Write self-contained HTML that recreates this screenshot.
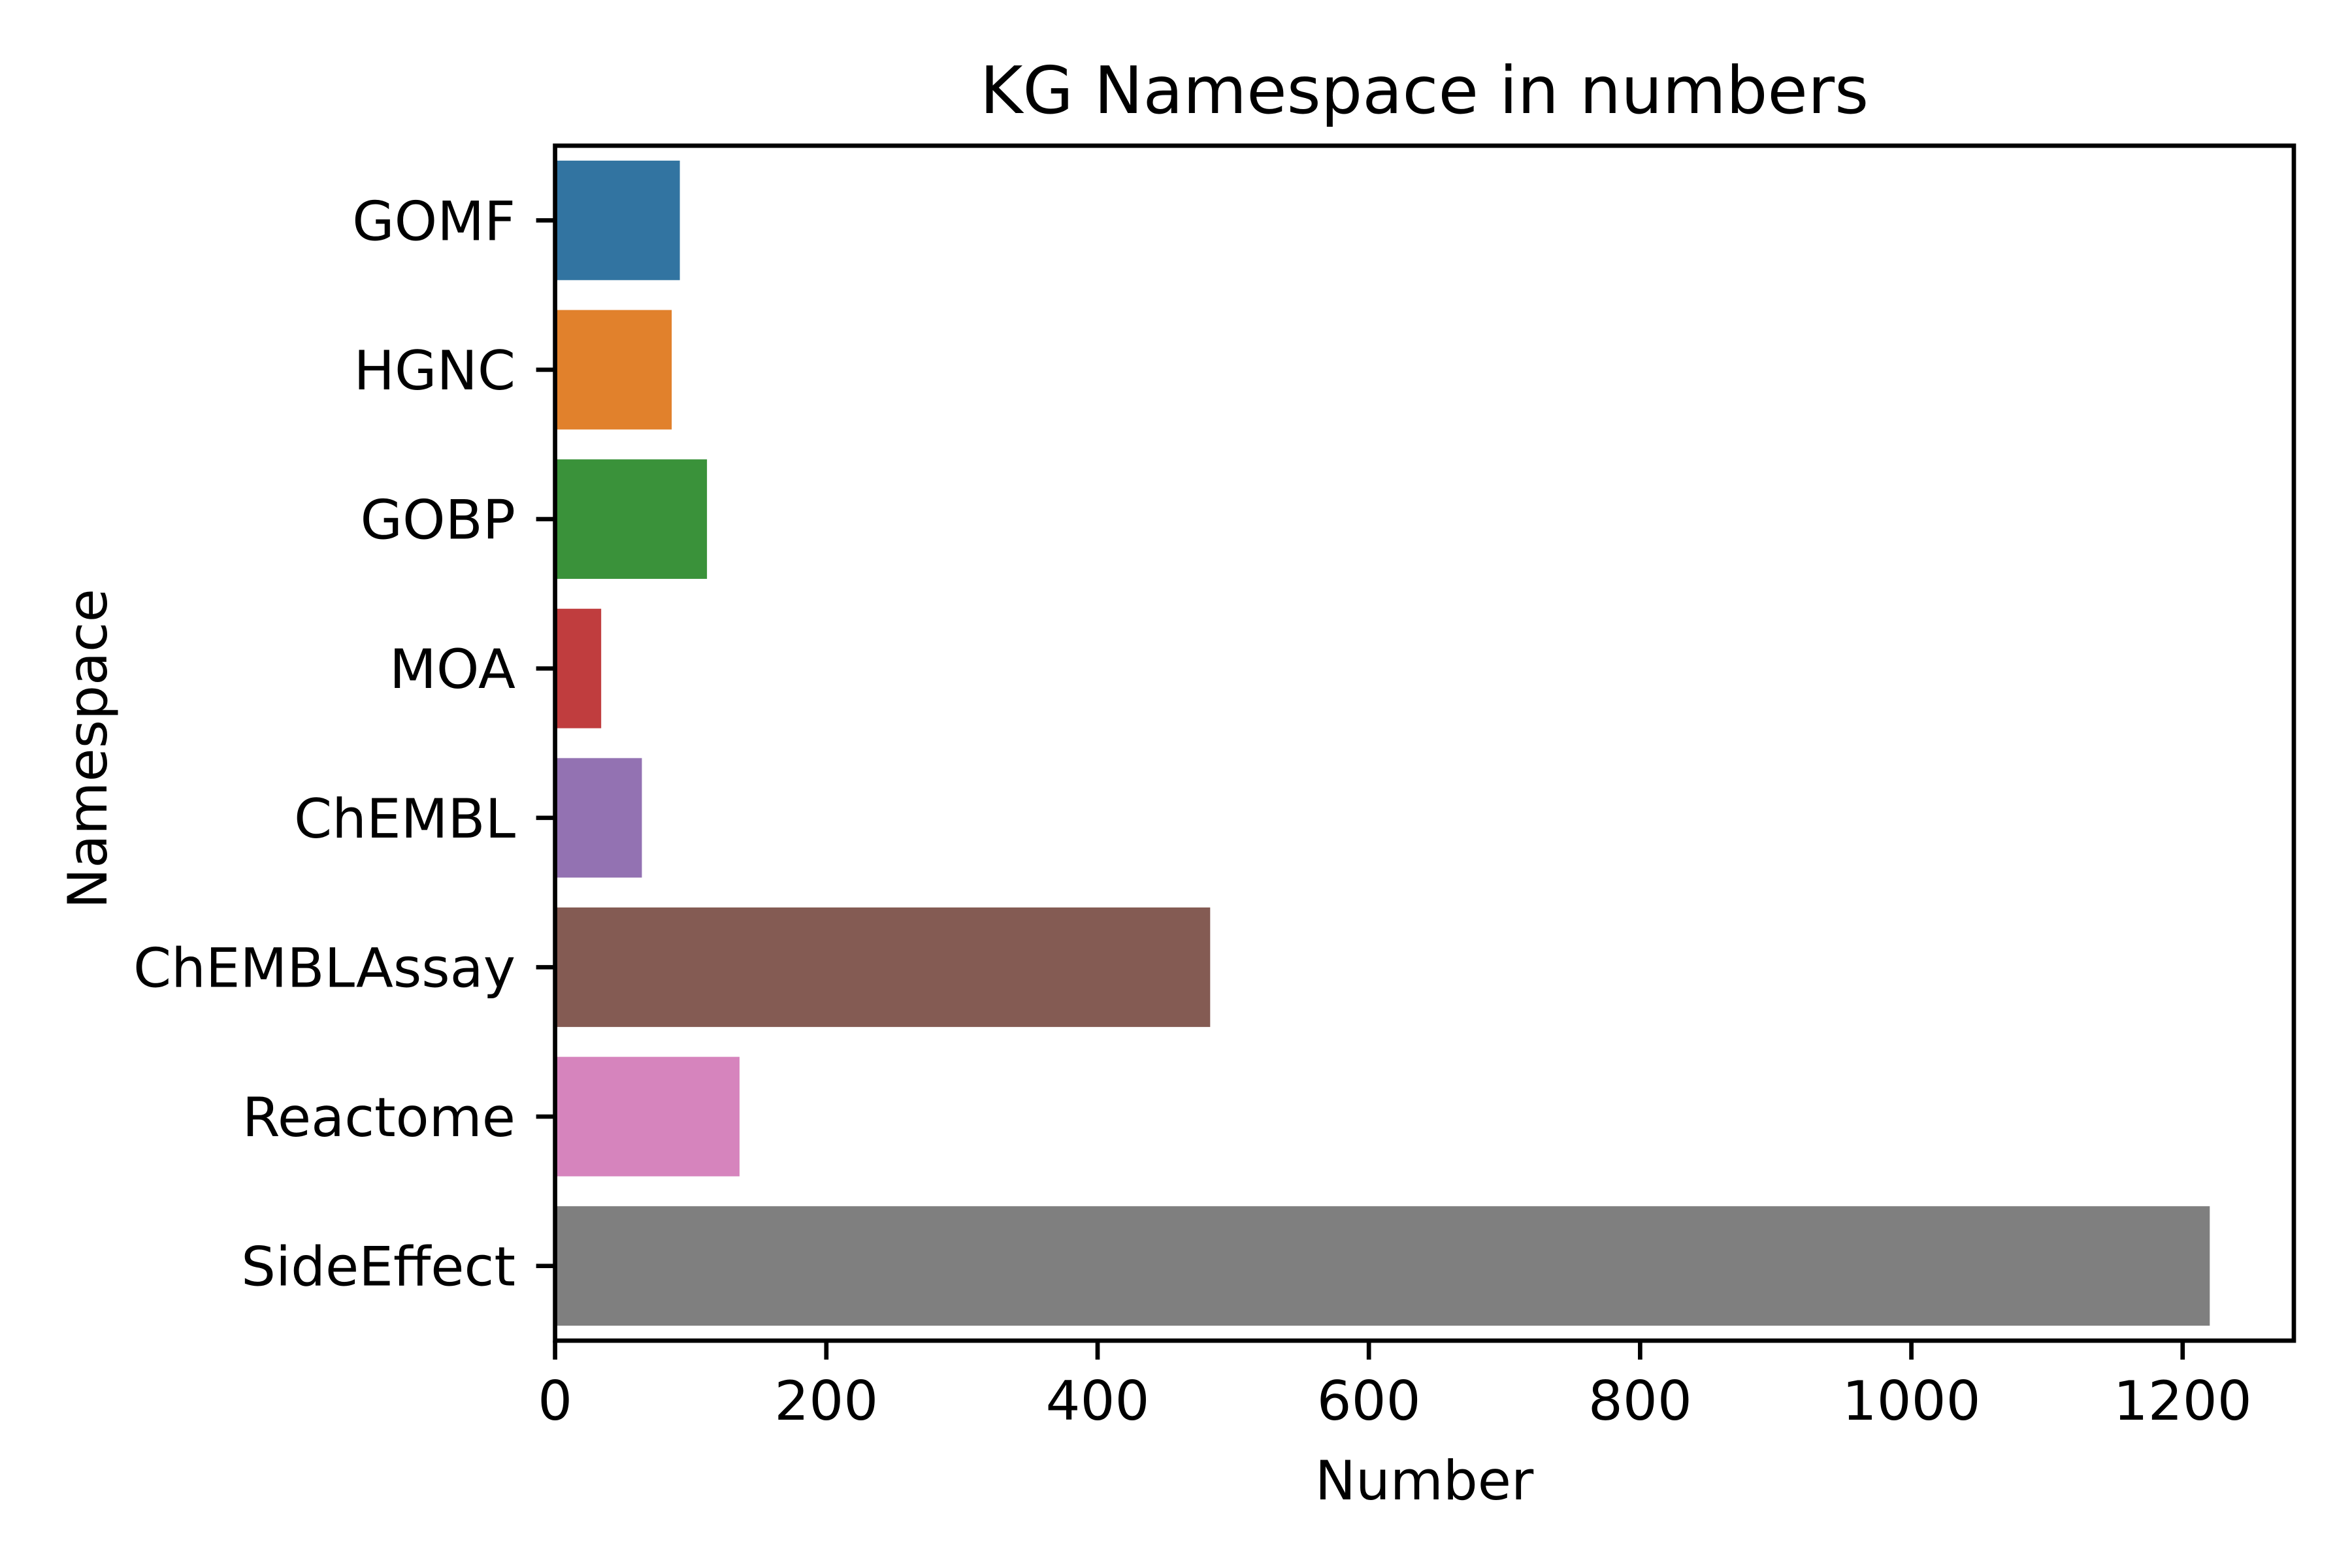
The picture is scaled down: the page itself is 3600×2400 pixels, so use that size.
<!DOCTYPE html>
<html><head><meta charset="utf-8"><style>html,body{margin:0;padding:0;background:#fff}svg{display:block}</style></head>
<body>
<svg id="chart" width="3600" height="2400" viewBox="0 0 3600 2400" xmlns="http://www.w3.org/2000/svg" font-family="'DejaVu Sans','Liberation Sans',sans-serif">
<rect width="3600" height="2400" fill="#fff"/>
<g id="bars"></g>
<g id="yticks"></g>
<g id="xticks"></g>
<rect x="849.6" y="223" width="2661.4" height="1829" fill="none" stroke="#000" stroke-width="6.7"/>
<text x="2180" y="173" font-size="100" text-anchor="middle">KG Namespace in numbers</text>
<text x="2180" y="2295" font-size="83.3" text-anchor="middle">Number</text>
<text transform="translate(163,1146) rotate(-90)" font-size="83.3" text-anchor="middle">Namespace</text>
</svg>
<script>
const categories = ["GOMF","HGNC","GOBP","MOA","ChEMBL","ChEMBLAssay","Reactome","SideEffect"];
const values = [92, 86, 112, 34, 64, 483, 136, 1220];
const colors = ["#3274a1","#e1812c","#3a923a","#c03d3e","#9372b2","#845b53","#d684bd","#7f7f7f"];
const xTicks = [0,200,400,600,800,1000,1200];
const xTickLabels = ["0","200","400","600","800","1000","1200"];

const NS = "http://www.w3.org/2000/svg";
const L = 849.6, R = 3511, T = 223, B = 2052;
const XMAX = 1282;
function xs(v){ return L + v/XMAX*(R-L); }
const band = (B-T)/categories.length;
function yc(i){ return T + band*(i+0.5); }

const gb = document.getElementById('bars');
const gy = document.getElementById('yticks');
const gx = document.getElementById('xticks');
categories.forEach((c,i)=>{
  const r = document.createElementNS(NS,'rect');
  r.setAttribute('x', xs(0));
  r.setAttribute('y', yc(i)-band*0.4);
  r.setAttribute('width', xs(values[i])-xs(0));
  r.setAttribute('height', band*0.8);
  r.setAttribute('fill', colors[i]);
  
  
  gb.appendChild(r);
  const tk = document.createElementNS(NS,'line');
  tk.setAttribute('x1', L-29); tk.setAttribute('x2', L);
  tk.setAttribute('y1', yc(i)); tk.setAttribute('y2', yc(i));
  tk.setAttribute('stroke','#000'); tk.setAttribute('stroke-width','6.7');
  
  
  gy.appendChild(tk);
  const t = document.createElementNS(NS,'text');
  t.setAttribute('x', 789); t.setAttribute('y', yc(i)+30);
  t.setAttribute('font-size','83.3'); t.setAttribute('text-anchor','end');
  t.textContent = c;
  
  
  gy.appendChild(t);
});
xTicks.forEach((v,i)=>{
  const tk = document.createElementNS(NS,'line');
  tk.setAttribute('x1', xs(v)); tk.setAttribute('x2', xs(v));
  tk.setAttribute('y1', B); tk.setAttribute('y2', B+29);
  tk.setAttribute('stroke','#000'); tk.setAttribute('stroke-width','6.7');
  
  
  gx.appendChild(tk);
  const t = document.createElementNS(NS,'text');
  t.setAttribute('x', xs(v)); t.setAttribute('y', 2173);
  t.setAttribute('font-size','83.3'); t.setAttribute('text-anchor','middle');
  t.textContent = xTickLabels[i];
  
  
  gx.appendChild(t);
});
</script>
</body></html>
